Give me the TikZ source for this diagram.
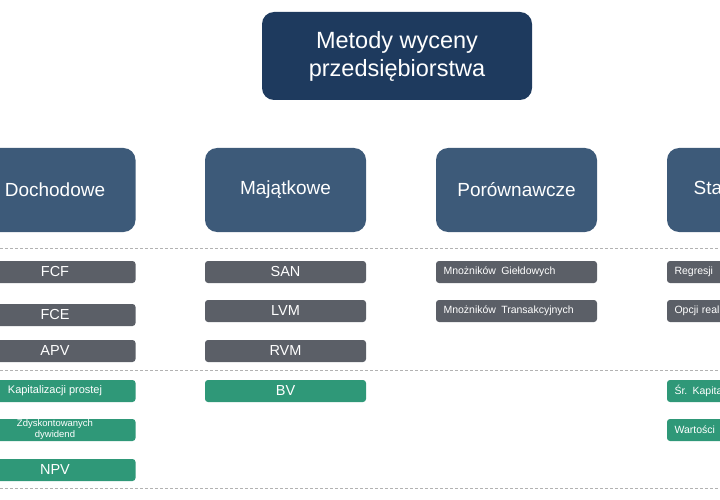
\documentclass[tikz,border=0pt]{standalone}
\usepackage{fontspec}
\setmainfont{Liberation Sans}
\begin{document}
\begin{tikzpicture}[x=1pt,y=-1pt,
 title/.style={draw=none,fill=navy,rounded corners=12pt,text=white,align=center,font=\fontsize{23.5}{28}\selectfont,inner sep=0pt},
 cat/.style={fill=catc,rounded corners=12pt,text=white,font=\fontsize{19}{22}\selectfont,inner sep=0pt},
 gbox/.style={fill=grayc,rounded corners=3pt,text=white,inner sep=0pt},
 grbox/.style={fill=greenc,rounded corners=3pt,text=white,inner sep=0pt},
 sep/.style={gray!60,densely dashed,line width=0.6pt}]
\definecolor{navy}{HTML}{1E3A5E}
\definecolor{catc}{HTML}{3D5A79}
\definecolor{grayc}{HTML}{5B5F67}
\definecolor{greenc}{HTML}{2F9878}
\useasboundingbox (0,0) rectangle (720,500);
\clip (0,0) rectangle (720,500);
\node[title,minimum width=270pt,minimum height=88pt] (t) at (397,56) {Metody wyceny\\przedsiębiorstwa};
\foreach \n/\x/\s in {d/55/Dochodowe,m/285.5/Majątkowe,p/516.5/Porównawcze,s/747.5/Statystyczne}
  \node[cat,minimum width=161pt,minimum height=84pt] (\n) at (\x,190) {\s};
\draw[sep] (0,248) -- (720,248);
\draw[sep] (0,370) -- (720,370);
\draw[sep] (0,488) -- (720,488);
\tikzset{cb/.style={minimum width=161pt,minimum height=22pt,font=\fontsize{14.5}{16}\selectfont}}
\node[gbox,cb] (fcf) at (55,272) {FCF};
\node[gbox,cb] (fce) at (55,315) {FCE};
\node[gbox,cb] (apv) at (55,351) {APV};
\node[grbox,cb,font=\fontsize{11}{13}\selectfont] (kap) at (55,391) {Kapitalizacji prostej};
\node[grbox,cb,align=center,font=\fontsize{9.5}{11}\selectfont] (zdy) at (55,430) {Zdyskontowanych\\dywidend};
\node[grbox,cb] (npv) at (55,470) {NPV};
\node[gbox,cb] (san) at (285.5,272) {SAN};
\node[gbox,cb] (lvm) at (285.5,311) {LVM};
\node[gbox,cb] (rvm) at (285.5,351) {RVM};
\node[grbox,cb] (bv) at (285.5,391) {BV};
\tikzset{lb/.style={minimum width=161pt,minimum height=22pt,font=\fontsize{10.5}{12}\selectfont,text width=146pt,align=left}}
\node[gbox,lb] (mg) at (516.5,272) {Mnożników\, Giełdowych};
\node[gbox,lb] (mt) at (516.5,311) {Mnożników\, Transakcyjnych};
\node[gbox,lb] (reg) at (747.5,272) {Regresji};
\node[gbox,lb] (opc) at (747.5,311) {Opcji realnych};
\node[grbox,lb] (sk) at (747.5,391) {Śr. Kapitalizacji};
\node[grbox,lb] (war) at (747.5,430) {Wartości};
\end{tikzpicture}
\end{document}
